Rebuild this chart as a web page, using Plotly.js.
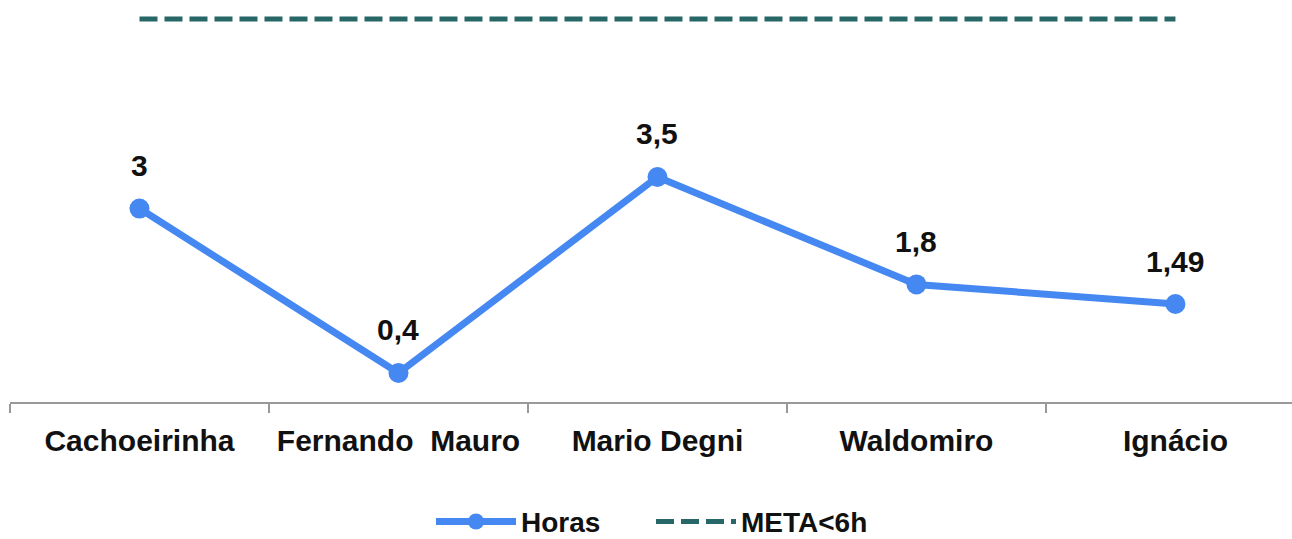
<!DOCTYPE html>
<html>
<head>
<meta charset="utf-8">
<script src="https://cdn.plot.ly/plotly-3.0.1.min.js"></script>
<style>html,body{margin:0;padding:0;background:#fff;}#chart{width:1292px;height:539px;}</style>
</head>
<body>
<div id="chart"></div>
<script>
const categories = ["Cachoeirinha", "Fernando  Mauro", "Mario Degni", "Waldomiro", "Ignácio"];
const horas = [3, 0.4, 3.5, 1.8, 1.49];
const horasLabels = ["3", "0,4", "3,5", "1,8", "1,49"];
const meta = [6, 6, 6, 6, 6];

const FONT = "Liberation Sans, Arial, sans-serif";

const traces = [
  {
    x: categories, y: horas, name: "Horas", type: "scatter", mode: "lines+markers",
    line: {color: "#4688F1", width: 7},
    marker: {color: "#4688F1", size: 20},
    hoverinfo: "skip"
  },
  {
    x: categories, y: meta, name: "META<6h", type: "scatter", mode: "lines",
    line: {color: "#276767", width: 5, dash: "18px,7px"},
    hoverinfo: "skip"
  }
];

const annotations = categories.map((c, i) => ({
  x: c, y: horas[i], text: horasLabels[i], showarrow: false,
  xanchor: "center", yanchor: "middle", yshift: 43,
  font: {family: FONT, size: 30, color: "#111", weight: "bold"}
}));

const layout = {
  width: 1292, height: 539,
  margin: {l: 10, r: 0, t: 0, b: 137, autoexpand: false},
  paper_bgcolor: "#fff", plot_bgcolor: "#fff",
  showlegend: true,
  legend: {
    orientation: "h", x: 0.5, xanchor: "center", y: -0.298, yanchor: "middle",
    font: {family: FONT, size: 28, color: "#111", weight: "bold"},
    itemwidth: 80, entrywidth: 125
  },
  xaxis: {
    type: "category", range: [-0.5, 4.45],
    showline: true, linecolor: "#999", linewidth: 2,
    ticks: "outside", tickson: "boundaries", ticklen: 9, tickcolor: "#999", tickwidth: 2,
    showgrid: false, zeroline: false,
    tickfont: {family: FONT, size: 30, color: "#111", weight: "bold"},
    ticklabelstandoff: 11
  },
  yaxis: {visible: false, range: [-0.06, 6.3], showgrid: false, zeroline: false},
  annotations: annotations
};

Plotly.newPlot("chart", traces, layout, {displayModeBar: false, staticPlot: true});
</script>
</body>
</html>
